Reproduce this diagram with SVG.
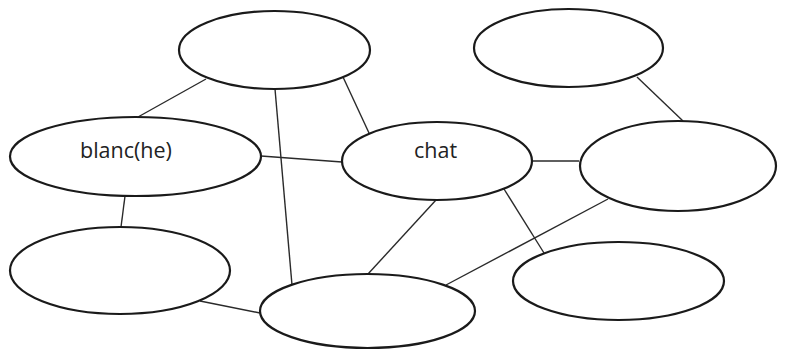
<svg xmlns="http://www.w3.org/2000/svg" width="787" height="351" viewBox="0 0 787 351">
<style>
.n{fill:#fff;stroke:#1a1a1a;stroke-width:2.2}
.e line{stroke:#2a2a2a;stroke-width:1.4}
.t{font-family:"Open Sans","DejaVu Sans",sans-serif;font-size:21.5px;fill:#222}
</style>
<rect width="787" height="351" fill="#fff"/>
<g class="e" id="connectors">
<line x1="206" y1="79" x2="138" y2="117"/>
<line x1="275" y1="89" x2="292" y2="285"/>
<line x1="343" y1="77" x2="369" y2="133"/>
<line x1="261" y1="156" x2="342" y2="162"/>
<line x1="637" y1="77" x2="683" y2="121"/>
<line x1="532" y1="161" x2="579" y2="161"/>
<line x1="125" y1="196" x2="121" y2="227"/>
<line x1="200" y1="301" x2="260" y2="313"/>
<line x1="436" y1="200" x2="368" y2="274"/>
<line x1="608" y1="199" x2="446" y2="285"/>
<line x1="504" y1="189" x2="544" y2="253"/>
</g>
<g id="n-top"><ellipse class="n" cx="274.5" cy="50" rx="95.5" ry="39"/></g>
<g id="n-topright"><ellipse class="n" cx="568.5" cy="48" rx="94.5" ry="39"/></g>
<g id="n-blanc"><ellipse class="n" cx="135.5" cy="156.5" rx="125.5" ry="39.5"/><text class="t" x="80" y="157.5">blanc(he)</text></g>
<g id="n-chat"><ellipse class="n" cx="437" cy="161" rx="95" ry="39"/><text class="t" x="414" y="158">chat</text></g>
<g id="n-rightmid"><ellipse class="n" cx="678" cy="166" rx="98" ry="45"/></g>
<g id="n-bottomleft"><ellipse class="n" cx="120" cy="270.5" rx="110" ry="43.5"/></g>
<g id="n-bottomcenter"><ellipse class="n" cx="367.5" cy="311" rx="107.5" ry="37"/></g>
<g id="n-bottomright"><ellipse class="n" cx="618.5" cy="281" rx="105.5" ry="39"/></g>
</svg>
